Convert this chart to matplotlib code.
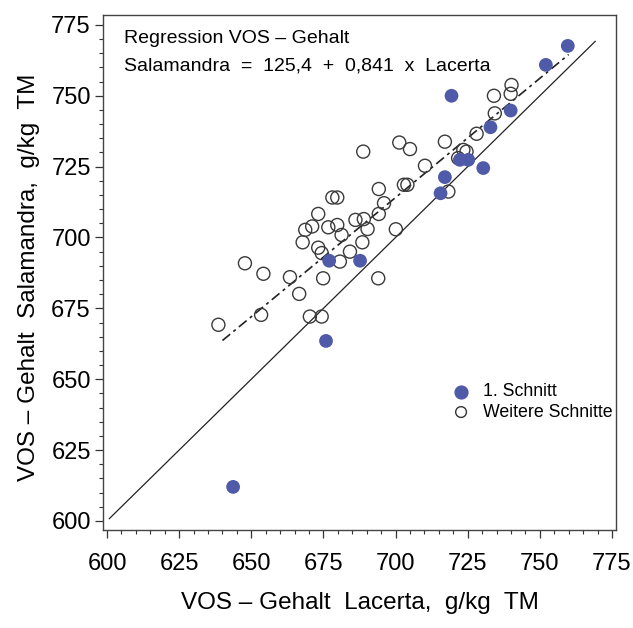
import matplotlib
matplotlib.use("Agg")
import matplotlib.pyplot as plt
from matplotlib.ticker import MultipleLocator
import numpy as np

plt.rcParams['font.family'] = ['Liberation Sans', 'DejaVu Sans']

# 1. Schnitt (filled)
first_x = [643.7, 675.9, 677.0, 687.7, 715.6, 717.1, 722.3, 725.2, 730.4,
           732.9, 739.9, 719.4, 752.1, 759.7]
first_y = [612.0, 663.5, 691.8, 691.8, 715.6, 721.3, 727.4, 727.4, 724.5,
           738.9, 744.8, 750.0, 760.9, 767.6]

# Weitere Schnitte (open)
other_x = [688.8, 701.3, 705.0, 702.9, 704.1, 694.2, 678.1, 679.8, 696.0,
           673.2, 694.2, 686.1, 689.0, 690.3, 671.1, 668.7, 676.7, 679.8,
           700.1, 681.3, 667.8, 673.2, 688.5, 674.4, 684.2, 680.7, 647.8,
           654.2, 663.4, 674.9, 694.0, 666.6, 653.4, 670.3, 674.4, 638.6,
           740.2, 739.9, 734.1, 734.4, 728.1, 717.1, 723.5, 724.6, 721.7,
           710.2, 718.3]
other_y = [730.3, 733.5, 731.2, 718.6, 718.6, 717.1, 714.1, 714.1, 712.1,
           708.3, 708.3, 706.2, 706.5, 703.0, 703.9, 702.7, 703.6, 704.4,
           702.9, 700.9, 698.3, 696.4, 698.3, 694.5, 695.0, 691.5, 690.9,
           687.2, 686.0, 685.6, 685.6, 680.1, 672.7, 672.1, 672.1, 669.2,
           753.8, 750.7, 750.0, 743.8, 736.6, 733.8, 730.9, 730.3, 728.0,
           725.3, 716.2]

# Regression: Salamandra = 125.4 + 0.841 * Lacerta
reg_intercept = 125.4
reg_slope = 0.841
reg_range = [640, 760]
identity_range = [600.8, 769.2]

ticks = [600, 625, 650, 675, 700, 725, 750, 775]

fill_color = '#4F5AA8'

fig = plt.figure(figsize=(6.33, 6.28), dpi=100)
ax = fig.add_axes([0.1627, 0.1561, 0.8104, 0.8200])

# lines
ax.plot(identity_range, identity_range, color='#222222', lw=0.9, zorder=2)
rx = np.array(reg_range)
ax.plot(rx, reg_intercept + reg_slope * rx, color='#222222', lw=1.2,
        linestyle=(0, (6, 2.5, 1.8, 2.5)), zorder=2)

# points
ax.scatter(other_x, other_y, s=88, facecolors='none', edgecolors='#3a3a3a',
           linewidths=1.0, zorder=3)
ax.scatter(first_x, first_y, s=98, color=fill_color, edgecolors='none', zorder=4)

ax.set_xlim(598.6, 776.4)
ax.set_ylim(596.8, 778.5)
ax.set_xticks(ticks)
ax.set_yticks(ticks)
ax.xaxis.set_minor_locator(MultipleLocator(5))
ax.yaxis.set_minor_locator(MultipleLocator(5))
ax.tick_params(which='major', direction='out', length=5.8, width=0.9,
               color='#333333', labelsize=17)
ax.tick_params(which='minor', direction='out', length=2.9, width=0.8,
               color='#333333')
ax.tick_params(axis='x', which='major', pad=11)
ax.tick_params(axis='y', which='major', pad=3)
for sp in ax.spines.values():
    sp.set_linewidth(1.0)
    sp.set_color('#444444')

ax.set_xlabel('VOS – Gehalt  Lacerta,  g/kg  TM', fontsize=17.5, labelpad=12)
ax.set_ylabel('VOS – Gehalt  Salamandra,  g/kg  TM', fontsize=17.5, labelpad=8)
ax.yaxis.label.set_y(0.49)

# annotation
ax.text(0.041, 0.9456, 'Regression VOS – Gehalt', transform=ax.transAxes,
        fontsize=14, va='baseline', ha='left')
ax.text(0.041, 0.893, 'Salamandra  =  125,4  +  0,841  x  Lacerta',
        transform=ax.transAxes, fontsize=14, va='baseline', ha='left')

# legend (manual)
ax.scatter([0.698], [0.268], s=85, color=fill_color, transform=ax.transAxes,
           clip_on=False, zorder=5)
ax.scatter([0.698], [0.229], s=60, facecolors='none', edgecolors='#333333',
           linewidths=1.0, transform=ax.transAxes, clip_on=False, zorder=5)
ax.text(0.74, 0.268, '1. Schnitt', transform=ax.transAxes, fontsize=12.8,
        va='center', ha='left')
ax.text(0.74, 0.229, 'Weitere Schnitte', transform=ax.transAxes, fontsize=12.8,
        va='center', ha='left')

fig.savefig('out.png', dpi=100)
